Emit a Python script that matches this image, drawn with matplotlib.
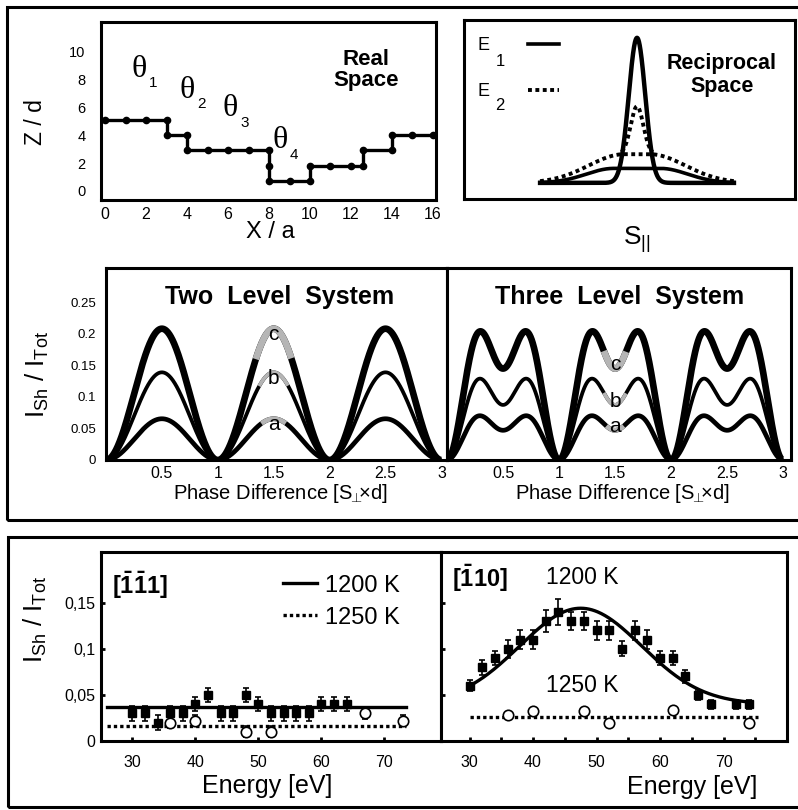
"""Step-edge shadowing figure: real/reciprocal sketch, level-system models, energy scans."""

import numpy as np
import matplotlib

matplotlib.use("Agg")
import matplotlib.pyplot as plt
from matplotlib.patches import Rectangle

plt.rcParams["font.family"] = ["Liberation Sans", "DejaVu Sans"]
plt.rcParams["mathtext.fontset"] = "custom"
plt.rcParams["mathtext.rm"] = "Liberation Sans"
plt.rcParams["mathtext.it"] = "Liberation Sans:italic"
plt.rcParams["mathtext.bf"] = "Liberation Sans:bold"

W, H = 798, 810

# real space terrace profile (site position, height)
SITE_X = [0, 1, 2, 3, 3, 4, 4, 5, 6, 7, 8, 8, 8, 9, 10, 10, 11, 12, 12.6, 12.6, 14, 14, 15, 16]
SITE_Z = [5.1, 5.1, 5.1, 5.1, 4.0, 4.0, 2.9, 2.9, 2.9, 2.9, 2.9, 1.8, 0.7, 0.7, 0.7,
          1.8, 1.8, 1.8, 1.8, 2.9, 2.9, 4.0, 4.0, 4.0]
THETA_NAMES = ["1", "2", "3", "4"]
THETA_X = [1.65, 3.99, 6.09, 8.53]
THETA_Z = [8.7, 7.2, 5.9, 3.6]

# reciprocal space profiles: narrow peak + broad shoulder
E1_PEAK, E1_WIDTH = 1.0, 0.085
E1_BROAD, E1_PLATEAU, E1_TAIL = 0.10, 0.24, 0.40
E2_PEAK, E2_WIDTH = 0.33, 0.065
E2_BROAD, E2_PLATEAU, E2_TAIL = 0.198, 0.13, 0.52

# level-system coverages for curves a, b, c
CURVE_NAMES = ["a", "b", "c"]
CURVE_LW = [3.4, 2.7, 4.8]
TWO_LEVEL_THETA = [[0.9834, 0.0166], [0.964, 0.036], [0.945, 0.055]]
THREE_LEVEL_THETA = [[0.977, 0.0119, 0.0111], [0.957, 0.0223, 0.0207], [0.930, 0.0376, 0.0324]]
PHASE_TICKS = [0.5, 1, 1.5, 2, 2.5, 3]
PHASE_TICK_LABELS = ["0.5", "1", "1.5", "2", "2.5", "3"]
RATIO_TICKS = [0, 0.05, 0.1, 0.15, 0.2, 0.25]
RATIO_TICK_LABELS = ["0", "0.05", "0.1", "0.15", "0.2", "0.25"]

# energy scans, [-1-1 1] direction
E111_1200_X = [30, 32, 34, 36, 38, 40, 42, 44, 46, 48, 50, 52, 54, 56, 58, 60, 62, 64]
E111_1200_Y = [0.03, 0.03, 0.02, 0.03, 0.03, 0.04, 0.05, 0.03, 0.03, 0.05, 0.04, 0.03,
               0.03, 0.03, 0.03, 0.04, 0.04, 0.04]
E111_1200_ERR = 0.008
E111_1250_X = [36, 40, 48, 52, 67, 73]
E111_1250_Y = [0.02, 0.022, 0.01, 0.01, 0.03, 0.022]
E111_1250_ERR = 0.006
E111_FIT_X = [26, 73.5]
E111_FIT_1200 = 0.037
E111_FIT_1250 = 0.016

# energy scans, [-1 1 0] direction
E110_1200_X = [30, 32, 34, 36, 38, 40, 42, 44, 46, 48, 50, 52, 54, 56, 58, 60, 62, 64,
               66, 68, 72, 74]
E110_1200_Y = [0.06, 0.08, 0.09, 0.10, 0.11, 0.11, 0.13, 0.14, 0.13, 0.13, 0.12, 0.12,
               0.10, 0.12, 0.11, 0.09, 0.09, 0.07, 0.05, 0.04, 0.04, 0.04]
E110_1200_ERR = [0.006, 0.008, 0.008, 0.01, 0.01, 0.01, 0.012, 0.014, 0.01, 0.01, 0.01,
                 0.01, 0.008, 0.01, 0.01, 0.008, 0.008, 0.007, 0.005, 0.005, 0.005, 0.005]
E110_1250_X = [36, 40, 48, 52, 62, 74]
E110_1250_Y = [0.028, 0.032, 0.032, 0.02, 0.034, 0.02]
E110_FIT_RANGE = [30, 74]
E110_FIT_OFFSET, E110_FIT_AMP, E110_FIT_CENTER, E110_FIT_SIGMA = 0.04, 0.104, 47.5, 9.6
E110_FIT_1250 = 0.026
E110_FIT_1250_X = [30, 75.5]

ENERGY_TICKS = [30, 40, 50, 60, 70]
SH_TICKS = [0, 0.05, 0.1, 0.15]
SH_TICK_LABELS = ["0", "0,05", "0,1", "0,15"]

GREY = "#b5b5b5"
DOTS = (0, (1, 0.9))

fig = plt.figure(figsize=(W / 100, H / 100), dpi=100)


def add_axes_px(x0, y0, x1, y1):
    ax = fig.add_axes([x0 / W, 1 - y1 / H, (x1 - x0) / W, (y1 - y0) / H])
    for spine in ax.spines.values():
        spine.set_linewidth(2.2)
    return ax


def fig_text(x, y, s, **kw):
    kw.setdefault("ha", "center")
    kw.setdefault("va", "center")
    return fig.text(x / W, 1 - y / H, s, **kw)


def shadow_intensity(theta, phase):
    amp = sum(t * np.exp(2j * np.pi * j * phase) for j, t in enumerate(theta))
    return 1 - np.abs(amp) ** 2


def shoulder(dist, height, plateau, tail):
    return np.where(dist < plateau, height, height * np.exp(-((dist - plateau) / tail) ** 2))


# outer frames
for x0, y0, x1, y1 in [(7, 7, 803, 520), (8, 537, 803, 807)]:
    fig.add_artist(Rectangle((x0 / W, 1 - y1 / H), (x1 - x0) / W, (y1 - y0) / H,
                             transform=fig.transFigure, fill=False, lw=2.2, ec="black"))

# ---- real space
ax = add_axes_px(101, 22, 436, 200)
ax.plot(SITE_X, SITE_Z, color="black", lw=2.4, marker="o", ms=4.5)
ax.set_xlim(-0.2, 16.15)
ax.set_ylim(-0.65, 12.1)
ax.set_xticks(range(0, 17, 2))
ax.set_yticks(range(0, 11, 2))
ax.tick_params(axis="x", length=0, labelsize=11.5, pad=5)
ax.tick_params(axis="y", length=0, labelsize=10.5, pad=11)
for name, tx, tz in zip(THETA_NAMES, THETA_X, THETA_Z):
    ax.text(tx, tz, "\u03b8", family="Liberation Serif", fontsize=23, ha="center", va="center")
    ax.text(tx + 0.7, tz - 1.0, name, fontsize=11, ha="center", va="center")
fig_text(270, 232, "X / a", fontsize=17)
fig_text(35, 122, "Z / d", fontsize=16.5, rotation=90)
fig_text(366, 70, "Real\nSpace", fontsize=16, weight="bold", linespacing=1.05)

# ---- reciprocal space
ax = add_axes_px(464, 20, 795, 199)
s = np.linspace(-1, 1, 1601)
dist = np.abs(s)
inner = dist <= 0.16
ax.plot(s, shoulder(dist, E2_BROAD, E2_PLATEAU, E2_TAIL), color="black", lw=2.8, ls=DOTS)
ax.plot(s[inner], E2_BROAD + E2_PEAK * np.exp(-s[inner] ** 2 / (2 * E2_WIDTH ** 2)),
        color="black", lw=2.8, ls=DOTS)
ax.plot(s, shoulder(dist, E1_BROAD, E1_PLATEAU, E1_TAIL), color="black", lw=2.6)
ax.plot(s, E1_PEAK * np.exp(-s ** 2 / (2 * E1_WIDTH ** 2)), color="black", lw=3.2)
ax.set_xlim(-1.785, 1.63)
ax.set_ylim(-0.111, 1.123)
ax.set_xticks([])
ax.set_yticks([])
key_solid, = ax.plot([], [], color="black", lw=2.6)
key_dots, = ax.plot([], [], color="black", lw=2.8, ls=DOTS)
ax.legend([key_solid, key_dots], ["E", "E"], loc="upper left", bbox_to_anchor=(0.02, 0.944),
          frameon=False, markerfirst=False, fontsize=13, handlelength=1.75,
          handletextpad=2.1, labelspacing=1.6, borderaxespad=0)
fig_text(500, 62, "1", fontsize=12)
fig_text(500, 106, "2", fontsize=12)
fig_text(722, 75, "Reciprocal\nSpace", fontsize=15.5, weight="bold", linespacing=1.1)
fig_text(637, 240, r"S$_{||}$", fontsize=19)

# ---- level systems
phase = np.linspace(0, 3, 1201)
for box, thetas, title, title_x, grey_half, label_shift, xmax in [
    ((106, 268, 447, 460), TWO_LEVEL_THETA, "Two  Level  System", 280, [0.11, 0.13, 0.16], -0.009, 3.05),
    ((447, 268, 791, 460), THREE_LEVEL_THETA, "Three  Level  System", 620, [0.08, 0.1, 0.1], 0.006, 3.07),
]:
    ax = add_axes_px(*box)
    for name, theta, lw, half in zip(CURVE_NAMES, thetas, CURVE_LW, grey_half):
        ax.plot(phase, shadow_intensity(theta, phase), color="black", lw=lw,
                solid_capstyle="butt")
        near = np.abs(phase - 1.5) <= half
        ax.plot(phase[near], shadow_intensity(theta, phase[near]), color=GREY, lw=lw,
                solid_capstyle="butt")
        ax.text(1.5, shadow_intensity(theta, 1.5) + label_shift, name, fontsize=15,
                ha="center", va="center")
    ax.set_xlim(0, xmax)
    ax.set_ylim(0, 0.304)
    ax.set_xticks(PHASE_TICKS, PHASE_TICK_LABELS)
    ax.tick_params(axis="x", length=0, labelsize=11.5, pad=4)
    if thetas is TWO_LEVEL_THETA:
        ax.set_yticks(RATIO_TICKS, RATIO_TICK_LABELS)
        ax.tick_params(axis="y", length=0, labelsize=9.5, pad=7)
    else:
        ax.set_yticks([])
    fig_text(title_x, 297, title, fontsize=18, weight="bold")
    fig_text((box[0] + box[2]) / 2 + 4, 494, r"Phase Difference [S$_{\!\!\bot}\!\!$×d]",
             fontsize=14.5)
fig_text(37, 375, r"$\mathregular{I_{Sh}\ /\ I_{Tot}}$", fontsize=18.5, rotation=90)

# ---- energy scans
ax = add_axes_px(101, 552, 441, 741)
fit_1200, = ax.plot(E111_FIT_X, [E111_FIT_1200] * 2, color="black", lw=2.4, zorder=2)
fit_1250, = ax.plot(E111_FIT_X, [E111_FIT_1250] * 2, color="black", lw=2.4, ls=DOTS, zorder=2)
ax.errorbar(E111_1200_X, E111_1200_Y, yerr=E111_1200_ERR, fmt="s", color="black", ms=5.5,
            capsize=2, elinewidth=1.2, capthick=1.2, zorder=3)
ax.errorbar(E111_1250_X, E111_1250_Y, yerr=E111_1250_ERR, fmt="o", mfc="white", mec="black",
            ecolor="black", ms=7.5, mew=1.2, capsize=2, elinewidth=1.2, zorder=4)
ax.set_xlim(25, 79)
ax.legend([fit_1200, fit_1250], ["1200 K", "1250 K"], loc="upper right",
          bbox_to_anchor=(0.905, 0.93), frameon=False, fontsize=17, handlelength=1.45,
          handletextpad=0.3, labelspacing=0.42, borderaxespad=0)
fig_text(140, 585, r"$\mathbf{[\bar{1}\bar{1}1]}$", fontsize=17)
fig_text(35, 620, r"$\mathregular{I_{Sh}\ /\ I_{Tot}}$", fontsize=18.5, rotation=90)
fig_text(267, 786, "Energy [eV]", fontsize=18)
ax.set_yticks(SH_TICKS, SH_TICK_LABELS)

ax2 = add_axes_px(441, 552, 787, 741)
fit_x = np.linspace(*E110_FIT_RANGE, 300)
ax2.plot(fit_x, E110_FIT_OFFSET + E110_FIT_AMP * np.exp(-(fit_x - E110_FIT_CENTER) ** 2
                                                        / (2 * E110_FIT_SIGMA ** 2)),
         color="black", lw=2.4, zorder=2)
ax2.plot(E110_FIT_1250_X, [E110_FIT_1250] * 2, color="black", lw=2.4, ls=DOTS, zorder=2)
ax2.errorbar(E110_1200_X, E110_1200_Y, yerr=E110_1200_ERR, fmt="s", color="black", ms=5.5,
             capsize=2, elinewidth=1.2, capthick=1.2, zorder=3)
ax2.plot(E110_1250_X, E110_1250_Y, "o", mfc="white", mec="black", ms=7.5, mew=1.2, zorder=4)
ax2.set_xlim(25.5, 80)
ax2.set_xticks(range(35, 80, 10), minor=True)
ax2.set_yticks(SH_TICKS, [])
fig_text(480, 578, r"$\mathbf{[\bar{1}10]}$", fontsize=17)
fig_text(582, 578, "1200 K", fontsize=16.5)
fig_text(582, 686, "1250 K", fontsize=16.5)
fig_text(692, 787, "Energy [eV]", fontsize=18)

for a in (ax, ax2):
    a.set_ylim(0, 0.205)
    a.set_xticks(ENERGY_TICKS)
    a.tick_params(which="both", direction="in", length=3, width=2, labelsize=11.5)
    a.tick_params(axis="x", pad=10)
    a.tick_params(axis="y", pad=4)

fig.savefig("out.png", dpi=100)
